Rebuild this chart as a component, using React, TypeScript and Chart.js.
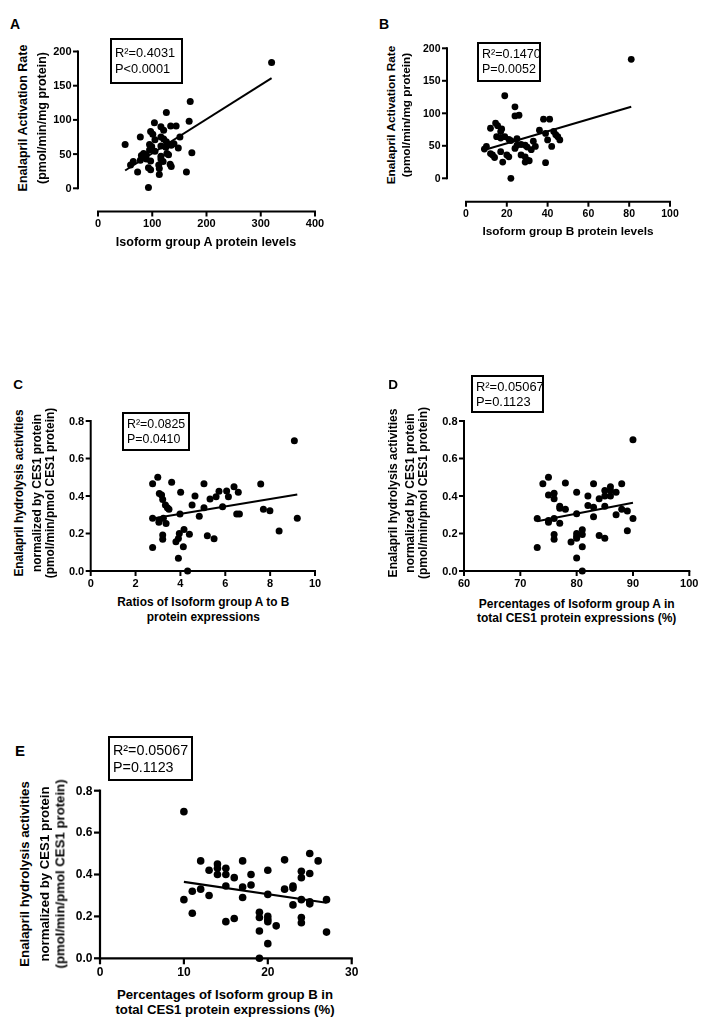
import React, { useEffect, useRef } from "react";
import { Chart, registerables } from "chart.js";

Chart.register(...registerables);

// ---------------- DATA ----------------
// Panel A: Isoform group A protein levels vs Enalapril activation rate
const aX = [320, 170, 126, 168, 104, 116, 121, 134, 144, 97, 101, 78, 151, 116, 121, 50, 95, 99, 126, 130, 135, 116, 148, 84, 89, 105, 173, 116, 127, 95, 65, 60, 89, 97, 116, 120, 133, 135, 112, 93, 97, 113, 73, 113, 163, 93, 130, 80, 78, 105, 125, 140];
const aY = [184, 127, 111, 98, 96, 90, 85, 91, 91, 83, 79, 75, 75, 75, 72, 64, 64, 61, 68, 64, 63, 62, 59, 51, 49, 54, 52, 47, 51, 56, 39, 34, 43, 40, 43, 39, 35, 32, 34, 30, 27, 29, 24, 20, 24, 1, 49, 48, 41, 71, 60, 65];
const aFitX = [50, 320];
const aFitY = [26, 161];
const aXTicks = [0, 100, 200, 300, 400];
const aXLabels = ["0", "100", "200", "300", "400"];
const aYTicks = [0, 50, 100, 150, 200];
const aYLabels = ["0", "50", "100", "150", "200"];

// Panel B: Isoform group B protein levels vs Enalapril activation rate
const bX = [81, 19, 24, 24, 26, 38, 41, 14.5, 15.5, 12, 17.5, 17, 36, 39, 43, 44, 15, 17, 19, 21, 25, 25, 27, 29, 33, 34, 40, 42, 45, 46, 10, 9, 12, 13, 17, 20, 21, 24, 27, 29, 30, 29, 18, 14, 39, 22, 31, 22, 30, 32];
const bY = [183, 127, 110, 96, 97, 91, 91, 85, 81, 77, 76, 72, 74, 69, 72, 67, 64, 62, 64, 60, 61, 51, 52, 51, 57, 49, 59, 49, 64, 59, 49, 45, 38, 36, 41, 36, 33, 46, 36, 33, 28, 25, 25, 32, 24, 0, 27, 58, 48, 44];
const bFitX = [9.3, 81];
const bFitY = [44, 110];
const bXTicks = [0, 20, 40, 60, 80, 100];
const bXLabels = ["0", "20", "40", "60", "80", "100"];
const bYTicks = [0, 50, 100, 150, 200];
const bYLabels = ["0", "50", "100", "150", "200"];

// Panel C: Ratios of isoform group A to B vs normalized hydrolysis activity
const cX = [9.08, 2.99, 2.76, 3.61, 5.05, 7.58, 3.06, 3.16, 3.21, 4.01, 4.65, 5.32, 5.59, 5.72, 6.06, 6.14, 6.39, 6.58, 3.33, 3.42, 3.49, 4.52, 5.05, 5.88, 7.7, 7.99, 2.76, 3.06, 3.24, 3.36, 3.98, 4.84, 6.51, 6.63, 9.21, 3.21, 3.21, 2.76, 3.8, 3.95, 3.91, 4.16, 4.4, 4.13, 3.91, 4.32, 5.2, 5.5, 8.4, 3.04];
const cY = [0.695, 0.5, 0.466, 0.473, 0.466, 0.464, 0.414, 0.405, 0.382, 0.42, 0.4, 0.384, 0.396, 0.425, 0.427, 0.396, 0.45, 0.42, 0.352, 0.338, 0.329, 0.352, 0.338, 0.343, 0.329, 0.322, 0.281, 0.272, 0.281, 0.254, 0.304, 0.292, 0.304, 0.304, 0.281, 0.192, 0.169, 0.126, 0.156, 0.2, 0.174, 0.222, 0.196, 0.13, 0.068, 0.0, 0.188, 0.172, 0.213, 0.26];
const cFitX = [2.76, 9.21];
const cFitY = [0.28, 0.408];
const cXTicks = [0, 2, 4, 6, 8, 10];
const cXLabels = ["0", "2", "4", "6", "8", "10"];

// Panel D: Percentage of isoform group A vs normalized hydrolysis activity
const dX = [90, 75, 74, 78, 83, 88, 75, 76, 76, 80, 82, 84, 85, 86, 85, 86, 87, 77, 77, 78, 82, 83, 85, 88, 89, 73, 75, 75, 76, 77, 80, 83, 87, 90, 76, 76, 73, 79, 80, 80, 80, 81, 81, 81, 80, 81, 84, 85, 89, 86];
const dY = [0.7, 0.5, 0.465, 0.47, 0.465, 0.465, 0.405, 0.415, 0.385, 0.42, 0.4, 0.385, 0.43, 0.45, 0.4, 0.4, 0.42, 0.345, 0.335, 0.33, 0.35, 0.34, 0.345, 0.33, 0.32, 0.28, 0.27, 0.26, 0.28, 0.255, 0.305, 0.29, 0.3, 0.28, 0.195, 0.17, 0.125, 0.155, 0.2, 0.175, 0.185, 0.22, 0.195, 0.13, 0.07, 0.0, 0.19, 0.175, 0.215, 0.43];
const dFitX = [73, 90];
const dFitY = [0.265, 0.364];
const dXTicks = [60, 70, 80, 90, 100];
const dXLabels = ["60", "70", "80", "90", "100"];

// Panel E: Percentage of isoform group B vs normalized hydrolysis activity
const eX = [10, 25, 26, 22, 17, 12, 25, 24, 24, 20, 18, 16, 15, 14, 15, 14, 13, 23, 23, 22, 18, 17, 15, 12, 11, 27, 25, 25, 24, 23, 20, 17, 13, 10, 24, 24, 27, 21, 20, 20, 20, 19, 19, 19, 20, 19, 16, 15, 11, 14];
const eY = [0.7, 0.5, 0.465, 0.47, 0.465, 0.465, 0.405, 0.415, 0.385, 0.42, 0.4, 0.385, 0.43, 0.45, 0.4, 0.4, 0.42, 0.345, 0.335, 0.33, 0.35, 0.34, 0.345, 0.33, 0.32, 0.28, 0.27, 0.26, 0.28, 0.255, 0.305, 0.29, 0.3, 0.28, 0.195, 0.17, 0.125, 0.155, 0.2, 0.175, 0.185, 0.22, 0.195, 0.13, 0.07, 0.0, 0.19, 0.175, 0.215, 0.43];
const eFitX = [10, 27];
const eFitY = [0.365, 0.265];
const eXTicks = [0, 10, 20, 30];
const eXLabels = ["0", "10", "20", "30"];

const normYTicks = [0, 0.2, 0.4, 0.6, 0.8];
const normYLabels = ["0.0", "0.2", "0.4", "0.6", "0.8"];

const activationTitle = ["Enalapril Activation Rate", "(pmol/min/mg protein)"];
const hydrolysisTitle = [
  "Enalapril hydrolysis activities",
  "normalized by CES1 protein",
  "(pmol/min/pmol CES1 protein)",
];

// ---------------- LAYOUT ----------------
const FONT = 'Arial, "Liberation Sans", Helvetica, sans-serif';

type PanelCfg = {
  key: string;
  box: { l: number; t: number; w: number; h: number };
  plot: { x0: number; x1: number; yT: number; yB: number };
  gapX: number;
  gapY: number;
  xMin: number;
  xMax: number;
  yMin: number;
  yMax: number;
  xs: number[];
  ys: number[];
  fitX: number[];
  fitY: number[];
  xTicks: number[];
  xLabels: string[];
  yTicks: number[];
  yLabels: string[];
  tickFont: number;
  tickLen: number;
  lw: number;
  r: number;
  titleFont: number;
  letter: { text: string; x: number; y: number; size: number };
  xTitle: { lines: string[]; cx: number; ys: number[] };
  yTitle: { lines: string[]; xs: number[]; cy: number };
  stat: { lines: string[]; x: number; y: number; w: number; h: number; font: number; lh: number };
};

const panels: PanelCfg[] = [
  {
    key: "A",
    box: { l: 40, t: 38, w: 300, h: 200 },
    plot: { x0: 98, x1: 315, yT: 51.5, yB: 188.3 },
    gapX: 23.2,
    gapY: 20,
    xMin: 0, xMax: 400, yMin: 0, yMax: 200,
    xs: aX, ys: aY, fitX: aFitX, fitY: aFitY,
    xTicks: aXTicks, xLabels: aXLabels, yTicks: aYTicks, yLabels: aYLabels,
    tickFont: 11, tickLen: 5, lw: 2, r: 3.5, titleFont: 12.5,
    letter: { text: "A", x: 15, y: 24, size: 14 },
    xTitle: { lines: ["Isoform group A protein levels"], cx: 206, ys: [241.7] },
    yTitle: { lines: activationTitle, xs: [23.3, 41.5], cy: 117.5 },
    stat: { lines: ["R²=0.4031", "P<0.0001"], x: 110, y: 38, w: 73, h: 46, font: 12.8, lh: 16 },
  },
  {
    key: "B",
    box: { l: 410, t: 36, w: 280, h: 190 },
    plot: { x0: 466, x1: 670, yT: 48.3, yB: 178.3 },
    gapX: 23.4,
    gapY: 19,
    xMin: 0, xMax: 100, yMin: 0, yMax: 200,
    xs: bX, ys: bY, fitX: bFitX, fitY: bFitY,
    xTicks: bXTicks, xLabels: bXLabels, yTicks: bYTicks, yLabels: bYLabels,
    tickFont: 10.5, tickLen: 5, lw: 2, r: 3.4, titleFont: 11.8,
    letter: { text: "B", x: 384, y: 24, size: 14 },
    xTitle: { lines: ["Isoform group B protein levels"], cx: 568, ys: [231.7] },
    yTitle: { lines: activationTitle, xs: [391.7, 406.7], cy: 115 },
    stat: { lines: ["R²=0.1470", "P=0.0052"], x: 477, y: 42, w: 64, h: 40, font: 12.5, lh: 15 },
  },
  {
    key: "C",
    box: { l: 50, t: 405, w: 285, h: 190 },
    plot: { x0: 90.7, x1: 315, yT: 421, yB: 571 },
    gapX: 0,
    gapY: 0,
    xMin: 0, xMax: 10, yMin: 0, yMax: 0.8,
    xs: cX, ys: cY, fitX: cFitX, fitY: cFitY,
    xTicks: cXTicks, xLabels: cXLabels, yTicks: normYTicks, yLabels: normYLabels,
    tickFont: 11, tickLen: 5, lw: 2, r: 3.5, titleFont: 11.9,
    letter: { text: "C", x: 18, y: 385, size: 13.5 },
    xTitle: { lines: ["Ratios of Isoform group A to B", "protein expressions"], cx: 203.3, ys: [603.3, 617.7] },
    yTitle: { lines: hydrolysisTitle, xs: [20, 37.5, 50.5], cy: 493 },
    stat: { lines: ["R²=0.0825", "P=0.0410"], x: 122, y: 412, w: 68, h: 39, font: 12.4, lh: 15 },
  },
  {
    key: "D",
    box: { l: 420, t: 405, w: 286, h: 190 },
    plot: { x0: 464, x1: 689.3, yT: 421, yB: 571 },
    gapX: 0,
    gapY: 0,
    xMin: 60, xMax: 100, yMin: 0, yMax: 0.8,
    xs: dX, ys: dY, fitX: dFitX, fitY: dFitY,
    xTicks: dXTicks, xLabels: dXLabels, yTicks: normYTicks, yLabels: normYLabels,
    tickFont: 11, tickLen: 5, lw: 2, r: 3.5, titleFont: 12,
    letter: { text: "D", x: 393, y: 385, size: 13.5 },
    xTitle: { lines: ["Percentages of Isoform group A in", "total CES1 protein expressions (%)"], cx: 576.7, ys: [604, 617.7] },
    yTitle: { lines: hydrolysisTitle, xs: [392.5, 409.5, 422.5], cy: 493 },
    stat: { lines: ["R²=0.05067", "P=0.1123"], x: 471, y: 375, w: 73, h: 38, font: 12.9, lh: 15 },
  },
  {
    key: "E",
    box: { l: 55, t: 775, w: 315, h: 210 },
    plot: { x0: 100, x1: 351.7, yT: 790.7, yB: 958.3 },
    gapX: 0,
    gapY: 0,
    xMin: 0, xMax: 30, yMin: 0, yMax: 0.8,
    xs: eX, ys: eY, fitX: eFitX, fitY: eFitY,
    xTicks: eXTicks, xLabels: eXLabels, yTicks: normYTicks, yLabels: normYLabels,
    tickFont: 12, tickLen: 6, lw: 2.2, r: 3.8, titleFont: 13.2,
    letter: { text: "E", x: 20, y: 750, size: 15 },
    xTitle: { lines: ["Percentages of Isoform group B in", "total CES1 protein expressions (%)"], cx: 225, ys: [995, 1010] },
    yTitle: { lines: hydrolysisTitle, xs: [25, 45, 60], cy: 874 },
    stat: { lines: ["R²=0.05067", "P=0.1123"], x: 108, y: 736, w: 85, h: 45, font: 14.3, lh: 17 },
  },
];

function makeAxesPlugin(cfg: PanelCfg) {
  return {
    id: "prismAxes" + cfg.key,
    afterDatasetsDraw(chart: any) {
      const ctx = chart.ctx as CanvasRenderingContext2D;
      const xs = chart.scales.x;
      const ys = chart.scales.y;
      const yAxisX = xs.getPixelForValue(cfg.xMin) - cfg.gapY;
      const xAxisY = ys.getPixelForValue(cfg.yMin) + cfg.gapX;
      ctx.save();
      ctx.strokeStyle = "#000";
      ctx.fillStyle = "#000";
      ctx.lineWidth = cfg.lw;
      ctx.lineCap = "square";
      ctx.beginPath();
      ctx.moveTo(yAxisX, ys.getPixelForValue(cfg.yMax));
      ctx.lineTo(yAxisX, ys.getPixelForValue(cfg.yMin));
      ctx.stroke();
      ctx.beginPath();
      ctx.moveTo(xs.getPixelForValue(cfg.xMin), xAxisY);
      ctx.lineTo(xs.getPixelForValue(cfg.xMax), xAxisY);
      ctx.stroke();
      ctx.lineCap = "butt";
      ctx.font = `bold ${cfg.tickFont}px ${FONT}`;
      ctx.textAlign = "right";
      ctx.textBaseline = "middle";
      cfg.yTicks.forEach((v, i) => {
        const y = ys.getPixelForValue(v);
        ctx.beginPath();
        ctx.moveTo(yAxisX - cfg.tickLen, y);
        ctx.lineTo(yAxisX, y);
        ctx.stroke();
        ctx.fillText(cfg.yLabels[i], yAxisX - cfg.tickLen - 1.5, y + 0.5);
      });
      ctx.textAlign = "center";
      ctx.textBaseline = "top";
      cfg.xTicks.forEach((v, i) => {
        const x = xs.getPixelForValue(v);
        ctx.beginPath();
        ctx.moveTo(x, xAxisY);
        ctx.lineTo(x, xAxisY + cfg.tickLen);
        ctx.stroke();
        ctx.fillText(cfg.xLabels[i], x, xAxisY + cfg.tickLen + 2);
      });
      ctx.restore();
    },
  };
}

function Panel({ cfg }: { cfg: PanelCfg }) {
  const ref = useRef<HTMLCanvasElement | null>(null);
  useEffect(() => {
    const canvas = ref.current;
    if (!canvas) return;
    const padding = {
      left: cfg.plot.x0 - cfg.box.l,
      top: cfg.plot.yT - cfg.box.t,
      right: cfg.box.l + cfg.box.w - cfg.plot.x1,
      bottom: cfg.box.t + cfg.box.h - cfg.plot.yB,
    };
    const chart = new Chart(canvas, {
      type: "scatter",
      data: {
        datasets: [
          {
            data: cfg.xs.map((x, i) => ({ x, y: cfg.ys[i] })),
            pointRadius: cfg.r,
            pointBackgroundColor: "#000",
            pointBorderColor: "#000",
            pointBorderWidth: 0,
            clip: false,
          } as any,
          {
            data: cfg.fitX.map((x, i) => ({ x, y: cfg.fitY[i] })),
            showLine: true,
            borderColor: "#000",
            borderWidth: cfg.lw,
            pointRadius: 0,
            clip: false,
          } as any,
        ],
      },
      options: {
        responsive: false,
        devicePixelRatio: 1,
        animation: false,
        events: [],
        layout: { padding },
        scales: {
          x: { type: "linear", min: cfg.xMin, max: cfg.xMax, display: false },
          y: { type: "linear", min: cfg.yMin, max: cfg.yMax, display: false },
        },
        plugins: {
          legend: { display: false },
          tooltip: { enabled: false },
          title: { display: false },
        },
      },
      plugins: [makeAxesPlugin(cfg)],
    });
    return () => chart.destroy();
  }, [cfg]);

  const text = (extra: React.CSSProperties): React.CSSProperties => ({
    position: "absolute",
    whiteSpace: "nowrap",
    fontFamily: FONT,
    color: "#000",
    lineHeight: 1,
    ...extra,
  });

  return (
    <>
      <canvas
        ref={ref}
        width={cfg.box.w}
        height={cfg.box.h}
        style={{ position: "absolute", left: cfg.box.l, top: cfg.box.t, width: cfg.box.w, height: cfg.box.h }}
      />
      <div
        style={text({
          left: cfg.letter.x,
          top: cfg.letter.y,
          transform: "translate(-50%, -50%)",
          fontWeight: "bold",
          fontSize: cfg.letter.size,
        })}
      >
        {cfg.letter.text}
      </div>
      {cfg.xTitle.lines.map((ln, i) => (
        <div
          key={"xt" + i}
          style={text({
            left: cfg.xTitle.cx,
            top: cfg.xTitle.ys[i],
            transform: "translate(-50%, -50%)",
            fontWeight: "bold",
            fontSize: cfg.titleFont,
          })}
        >
          {ln}
        </div>
      ))}
      {cfg.yTitle.lines.map((ln, i) => (
        <div
          key={"yt" + i}
          style={text({
            left: cfg.yTitle.xs[i],
            top: cfg.yTitle.cy,
            transform: "translate(-50%, -50%) rotate(-90deg)",
            fontWeight: "bold",
            fontSize: cfg.titleFont,
          })}
        >
          {ln}
        </div>
      ))}
      <div
        style={{
          position: "absolute",
          left: cfg.stat.x,
          top: cfg.stat.y,
          width: cfg.stat.w,
          height: cfg.stat.h,
          boxSizing: "border-box",
          border: "2px solid #000",
          display: "flex",
          flexDirection: "column",
          justifyContent: "center",
          paddingLeft: 3,
          fontFamily: FONT,
          fontSize: cfg.stat.font,
          lineHeight: `${cfg.stat.lh}px`,
          whiteSpace: "nowrap",
          color: "#000",
        }}
      >
        {cfg.stat.lines.map((ln, i) => (
          <div key={"st" + i}>{ln}</div>
        ))}
      </div>
    </>
  );
}

export default function App() {
  return (
    <div
      style={{
        position: "absolute",
        left: 0,
        top: 0,
        width: 706,
        height: 1032,
        background: "#fff",
        overflow: "hidden",
      }}
    >
      {panels.map((p) => (
        <Panel key={p.key} cfg={p} />
      ))}
    </div>
  );
}
